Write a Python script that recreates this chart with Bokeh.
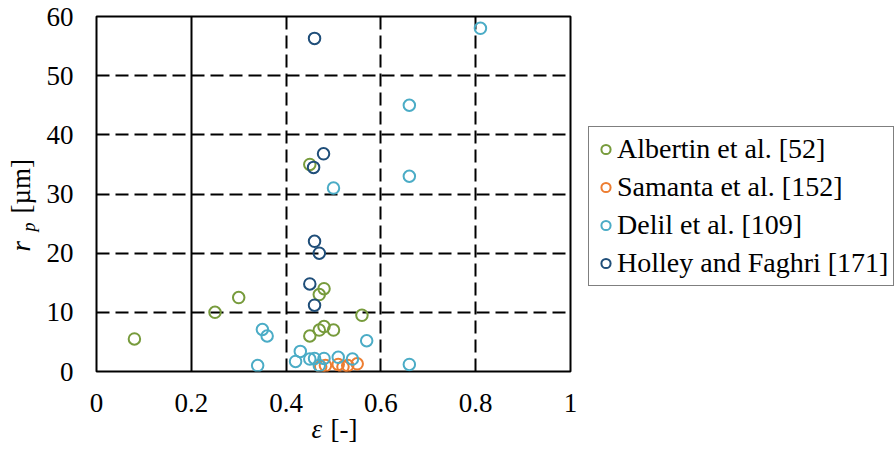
from bokeh.plotting import figure
from bokeh.models import (Range1d, FixedTicker, Grid, Legend, LegendItem,
                          NumeralTickFormatter, Title)
from bokeh.embed import file_html
from bokeh.resources import INLINE

# ---------------- data ----------------
series_names = ["Albertin et al. [52]", "Samanta et al. [152]",
                "Delil et al. [109]", "Holley and Faghri [171]"]
series_colors = ["#779B3C", "#ED7D31", "#4BACC6", "#1F4E79"]

albertin_eps = [0.08, 0.25, 0.30, 0.45, 0.48, 0.47, 0.56, 0.45, 0.47, 0.48, 0.50]
albertin_rp = [5.5, 10.0, 12.5, 35.0, 14.0, 13.0, 9.5, 6.0, 7.0, 7.6, 7.0]

samanta_eps = [0.473, 0.483, 0.51, 0.52, 0.53, 0.55]
samanta_rp = [0.8, 1.0, 1.2, 0.8, 1.0, 1.3]

delil_eps = [0.81, 0.66, 0.66, 0.50, 0.35, 0.36, 0.57, 0.43, 0.42, 0.45,
             0.46, 0.48, 0.51, 0.54, 0.34, 0.66, 0.47]
delil_rp = [58.0, 45.0, 33.0, 31.0, 7.1, 6.0, 5.2, 3.4, 1.7, 2.1,
            2.2, 2.2, 2.4, 2.1, 1.0, 1.2, 1.0]

holley_eps = [0.46, 0.479, 0.458, 0.46, 0.47, 0.45, 0.46]
holley_rp = [56.3, 36.8, 34.5, 22.0, 20.0, 14.8, 11.2]

x_ticks = [0, 0.2, 0.4, 0.6, 0.8, 1.0]
y_ticks = [0, 10, 20, 30, 40, 50, 60]
x_dashed_grid = [0.4, 0.6, 0.8]
x_solid_grid = [0.2]
y_dashed_grid = [10, 20, 30, 40, 50]

FONT = "Liberation Serif"

p = figure(frame_width=474, frame_height=355,
           min_border_left=96, min_border_right=325,
           min_border_top=16, min_border_bottom=79,
           x_range=Range1d(0, 1), y_range=Range1d(0, 60),
           output_backend="svg", toolbar_location=None,
           background_fill_color="white", border_fill_color="white")

p.outline_line_color = "black"
p.outline_line_width = 2
p.outline_line_alpha = 1

for ax in (p.xaxis, p.yaxis):
    ax.axis_line_color = None
    ax.major_tick_line_color = None
    ax.minor_tick_line_color = None
    ax.major_label_text_font = FONT
    ax.major_label_text_font_size = "27px"
    ax.major_label_text_color = "black"

p.xaxis.ticker = FixedTicker(ticks=x_ticks)
p.yaxis.ticker = FixedTicker(ticks=y_ticks)
p.xaxis.formatter = NumeralTickFormatter(format="0.[0]")
p.xaxis.major_label_standoff = 16
p.yaxis.major_label_standoff = 17

p.xgrid.ticker = FixedTicker(ticks=x_dashed_grid)
p.ygrid.ticker = FixedTicker(ticks=y_dashed_grid)
for g in (p.xgrid, p.ygrid):
    g.grid_line_color = "black"
    g.grid_line_width = 2
    g.grid_line_dash = "13 6"

solid = Grid(dimension=0, ticker=FixedTicker(ticks=x_solid_grid),
             grid_line_color="black", grid_line_width=2)
p.add_layout(solid)

all_x = [albertin_eps, samanta_eps, delil_eps, holley_eps]
all_y = [albertin_rp, samanta_rp, delil_rp, holley_rp]
renderers = []
for xs, ys, c in zip(all_x, all_y, series_colors):
    r = p.scatter(xs, ys, marker="circle", size=11.5, fill_color=None,
                  line_color=c, line_width=2)
    renderers.append(r)

legend = Legend(items=[LegendItem(label=n, renderers=[r])
                       for n, r in zip(series_names, renderers)],
                location=(18, 85), orientation="vertical",
                label_text_font=FONT, label_text_font_size="28px",
                label_text_color="black",
                glyph_width=23, glyph_height=34, label_height=34,
                spacing=4, padding=5, label_standoff=0, margin=0,
                border_line_color="black", border_line_width=1,
                background_fill_color="white", background_fill_alpha=1)
p.add_layout(legend, "right")


# axis titles with mixed styles, built from side-panel titles
def title(side, text, offset, standoff, size="27px", style="normal"):
    t = Title(text=text, align="left", vertical_align="top",
              offset=offset, standoff=standoff,
              text_font=FONT, text_font_size=size,
              text_font_style=style, text_color="black")
    p.add_layout(t, side)


title("below", "ε", 215, -2, style="italic")
title("below", "[-]", 234, -62)
title("left", "[µm]", 158, -76)
title("left", "r", 120, -76, style="italic")
title("left", "p", 140, -50, size="18px", style="italic")

open("out.html", "w").write(file_html(p, INLINE))
